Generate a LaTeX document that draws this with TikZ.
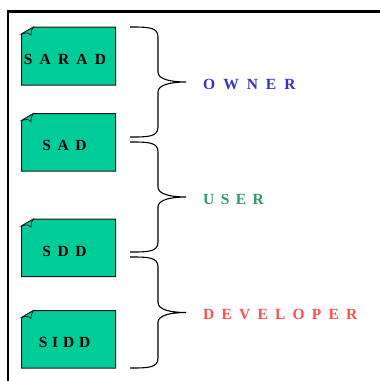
\documentclass[tikz,border=0pt]{standalone}
\usepackage{fontspec}
\setmainfont{Liberation Serif}
\definecolor{boxgreen}{HTML}{00CC99}
\definecolor{ownerblue}{HTML}{3333CC}
\definecolor{usergreen}{HTML}{339966}
\definecolor{devred}{HTML}{FF5050}
\newcommand{\spaced}[2]{\spaceskip=#1pt\relax #2}
\tikzset{
  x=1pt,y=-1pt,
  docbox/.style={draw=black!90,line width=1pt,fill=boxgreen},
  fold/.style={draw=black!90,line width=0.7pt,fill=boxgreen},
  doclabel/.style={font=\fontsize{15.5}{17}\selectfont\bfseries,text=black,inner sep=0pt,anchor=center},
  rolelabel/.style={font=\fontsize{15.5}{17}\selectfont\bfseries,inner sep=0pt,anchor=west},
  bracecurve/.style={draw=black,line width=1.1pt},
}
\newcommand{\docshape}[4]{% name, left, top, bottom
  \draw[docbox] (#2+12,#3) -- (#2+94,#3) -- (#2+94,#4) -- (#2,#4) -- (#2,#3+7) -- cycle;
  \draw[fold] (#2,#3+7) -- (#2+12,#3) .. controls (#2+10,#3+3) .. (#2+9.5,#3+8) .. controls (#2+6,#3+5.5) .. (#2,#3+7) -- cycle;
  \coordinate (#1) at (#2+47,#3/2+#4/2);
}
\newcommand{\bracedraw}[6]{% start, inner-top, tip, inner-bottom, end, tip name
  \draw[bracecurve] (#1) .. controls +(18,0) and (158,#2-10) .. (158,#2) -- (158,#3-10)
    .. controls (158,#3-3) and (170,#3) .. (#6)
    (#6) .. controls (170,#3) and (158,#3+3) .. (158,#3+10) -- (158,#4)
    .. controls (158,#4+10) and +(18,0) .. (#5);
}
\begin{document}
\begin{tikzpicture}
\useasboundingbox (0,0) rectangle (380,381);
\fill[white] (0,0) rectangle (380,381);
\begin{scope}
\clip (0,0) rectangle (380,381);
\draw[black,line width=2.6pt] (8,390) -- (8,11.5) -- (390,11.5);
\end{scope}
\docshape{sarad}{21.5}{27}{85}
\docshape{sad}{21.5}{113.5}{171}
\docshape{sdd}{21.5}{219}{276.5}
\docshape{sidd}{21.5}{310.5}{368}
\node[doclabel] (tsarad) at (65,59) {\spaced{7.2}{S A R A D}};
\node[doclabel] (tsad) at (64.5,145) {\spaced{6.5}{S A D}};
\node[doclabel] (tsdd) at (64.5,251) {\spaced{6.5}{S D D}};
\node[doclabel] (tsidd) at (64.5,342) {\spaced{4.8}{S I D D}};
\node[rolelabel,text=ownerblue] (owner) at (203,84) {\spaced{8}{O W N E R}};
\node[rolelabel,text=usergreen] (user) at (203,199) {\spaced{6.4}{U S E R}};
\node[rolelabel,text=devred] (dev) at (203,314) {\spaced{7.2}{D E V E L O P E R}};
\coordinate (a1) at (130,27);
\coordinate (t1) at (186,82);
\coordinate (e1) at (130,137);
\coordinate (a2) at (130,142);
\coordinate (t2) at (186,197);
\coordinate (e2) at (130,252);
\coordinate (a3) at (130,257);
\coordinate (t3) at (186,312.5);
\coordinate (e3) at (130,368);
\bracedraw{a1}{37}{82}{127}{e1}{t1}
\bracedraw{a2}{152}{197}{242}{e2}{t2}
\bracedraw{a3}{267}{312.5}{358}{e3}{t3}
\end{tikzpicture}
\end{document}
